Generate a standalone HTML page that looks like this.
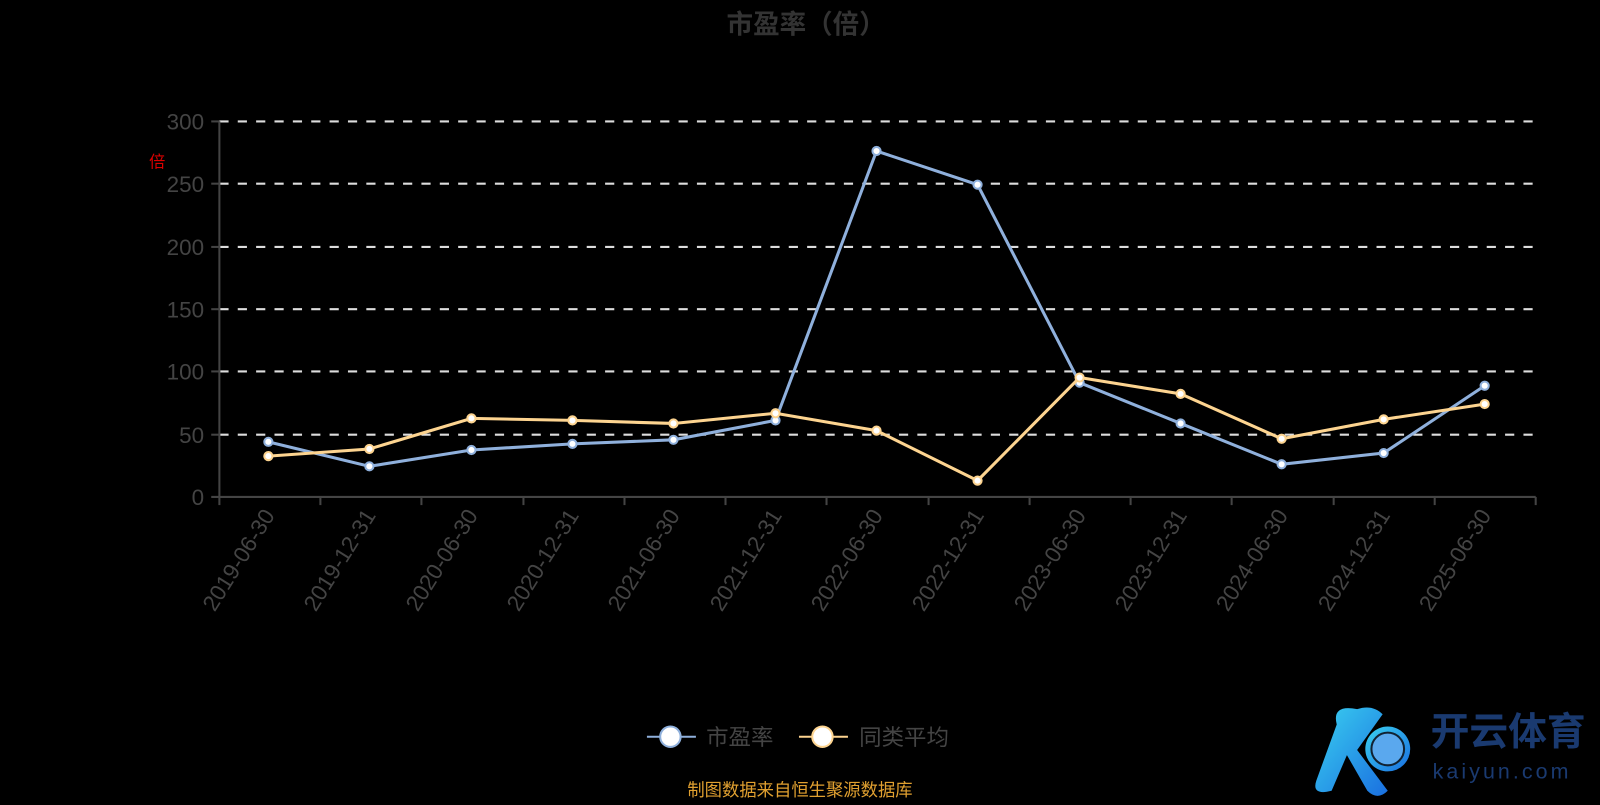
<!DOCTYPE html>
<html><head><meta charset="utf-8"><style>
body{margin:0;background:#000;width:1600px;height:800px;overflow:hidden}
svg{font-family:"Liberation Sans","Noto Sans CJK SC",sans-serif}
</style></head><body>
<svg width="1600" height="800" xmlns="http://www.w3.org/2000/svg">
<g transform="scale(1.0204)">
<text x="790" y="33" text-anchor="middle" font-size="26" font-weight="bold" fill="#333">市盈率（倍）</text>
<g stroke="#ddd" stroke-width="2" stroke-dasharray="9,9">
<line x1="215" y1="119" x2="1505" y2="119"/><line x1="215" y1="180" x2="1505" y2="180"/>
<line x1="215" y1="242" x2="1505" y2="242"/><line x1="215" y1="303" x2="1505" y2="303"/>
<line x1="215" y1="364" x2="1505" y2="364"/><line x1="215" y1="426" x2="1505" y2="426"/>
</g>
<g stroke="#444" stroke-width="2">
<line x1="215" y1="119" x2="215" y2="487"/><line x1="207" y1="487" x2="1505" y2="487"/>
<line x1="207" y1="119" x2="215" y2="119"/><line x1="207" y1="180" x2="215" y2="180"/><line x1="207" y1="242" x2="215" y2="242"/><line x1="207" y1="303" x2="215" y2="303"/><line x1="207" y1="364" x2="215" y2="364"/><line x1="207" y1="426" x2="215" y2="426"/>
<line x1="215" y1="487" x2="215" y2="495"/><line x1="314" y1="487" x2="314" y2="495"/><line x1="413" y1="487" x2="413" y2="495"/><line x1="513" y1="487" x2="513" y2="495"/><line x1="612" y1="487" x2="612" y2="495"/><line x1="711" y1="487" x2="711" y2="495"/><line x1="810" y1="487" x2="810" y2="495"/><line x1="910" y1="487" x2="910" y2="495"/><line x1="1009" y1="487" x2="1009" y2="495"/><line x1="1108" y1="487" x2="1108" y2="495"/><line x1="1207" y1="487" x2="1207" y2="495"/><line x1="1307" y1="487" x2="1307" y2="495"/><line x1="1406" y1="487" x2="1406" y2="495"/><line x1="1505" y1="487" x2="1505" y2="495"/>
</g>
<g font-size="22" fill="#444" text-anchor="end">
<text x="200" y="127">300</text><text x="200" y="188">250</text><text x="200" y="250">200</text><text x="200" y="311">150</text><text x="200" y="372">100</text><text x="200" y="434">50</text><text x="200" y="495">0</text>
</g>
<text x="146" y="164" font-size="16" fill="#d00">倍</text>
<g font-size="22" fill="#444" text-anchor="end">
<text transform="translate(270,505) rotate(-58)">2019-06-30</text>
<text transform="translate(369,505) rotate(-58)">2019-12-31</text>
<text transform="translate(469,505) rotate(-58)">2020-06-30</text>
<text transform="translate(568,505) rotate(-58)">2020-12-31</text>
<text transform="translate(667,505) rotate(-58)">2021-06-30</text>
<text transform="translate(767,505) rotate(-58)">2021-12-31</text>
<text transform="translate(866,505) rotate(-58)">2022-06-30</text>
<text transform="translate(965,505) rotate(-58)">2022-12-31</text>
<text transform="translate(1065,505) rotate(-58)">2023-06-30</text>
<text transform="translate(1164,505) rotate(-58)">2023-12-31</text>
<text transform="translate(1263,505) rotate(-58)">2024-06-30</text>
<text transform="translate(1363,505) rotate(-58)">2024-12-31</text>
<text transform="translate(1462,505) rotate(-58)">2025-06-30</text>
</g>
<polyline fill="none" stroke="#8fb0dc" stroke-width="3" points="263,433 362,457 462,441 561,435 660,431 760,412 859,148 958,181 1058,375 1157,415 1256,455 1356,444 1455,378"/>
<g fill="#fff" stroke="#8fb0dc" stroke-width="2">
<circle cx="263" cy="433" r="4"/><circle cx="362" cy="457" r="4"/><circle cx="462" cy="441" r="4"/><circle cx="561" cy="435" r="4"/><circle cx="660" cy="431" r="4"/><circle cx="760" cy="412" r="4"/><circle cx="859" cy="148" r="4"/><circle cx="958" cy="181" r="4"/><circle cx="1058" cy="375" r="4"/><circle cx="1157" cy="415" r="4"/><circle cx="1256" cy="455" r="4"/><circle cx="1356" cy="444" r="4"/><circle cx="1455" cy="378" r="4"/>
</g>
<polyline fill="none" stroke="#fdd490" stroke-width="3" points="263,447 362,440 462,410 561,412 660,415 760,405 859,422 958,471 1058,370 1157,386 1256,430 1356,411 1455,396"/>
<g fill="#fff" stroke="#fdd490" stroke-width="2">
<circle cx="263" cy="447" r="4"/><circle cx="362" cy="440" r="4"/><circle cx="462" cy="410" r="4"/><circle cx="561" cy="412" r="4"/><circle cx="660" cy="415" r="4"/><circle cx="760" cy="405" r="4"/><circle cx="859" cy="422" r="4"/><circle cx="958" cy="471" r="4"/><circle cx="1058" cy="370" r="4"/><circle cx="1157" cy="386" r="4"/><circle cx="1256" cy="430" r="4"/><circle cx="1356" cy="411" r="4"/><circle cx="1455" cy="396" r="4"/>
</g>
<line x1="634" y1="722" x2="682" y2="722" stroke="#8fb0dc" stroke-width="2"/>
<circle cx="657" cy="722" r="10" fill="#fff" stroke="#8fb0dc" stroke-width="2"/>
<text x="692" y="730" font-size="22" fill="#444">市盈率</text>
<line x1="783" y1="722" x2="831" y2="722" stroke="#fdd490" stroke-width="2"/>
<circle cx="806" cy="722" r="10" fill="#fff" stroke="#fdd490" stroke-width="2"/>
<text x="842" y="730" font-size="22" fill="#444">同类平均</text>
<text x="784" y="780" text-anchor="middle" font-size="17" fill="#e0a030">制图数据来自恒生聚源数据库</text>
<defs><linearGradient id="g" x1="0" y1="0" x2="1" y2="1"><stop offset="0" stop-color="#3ad0f0"/><stop offset="1" stop-color="#1a6fe0"/></linearGradient></defs>
<path d="M1330,695 q-25,-5 -20,15 l-20,55 q-5,15 15,10 l15,-35 l20,35 q10,10 20,0 l-30,-40 l25,-35 q-10,-10 -25,-5z" fill="url(#g)"/>
<circle cx="1360" cy="734" r="22" fill="url(#g)"/>
<circle cx="1360" cy="734" r="16" fill="#5aa8ee" stroke="#123" stroke-width="2"/>
<text x="1402" y="730" font-size="38" fill="#1a3a70" font-weight="bold">开云体育</text>
<text x="1404" y="763" font-size="21" fill="#1a3a70" letter-spacing="3">kaiyun.com</text>
</g>
</svg>
</body></html>
